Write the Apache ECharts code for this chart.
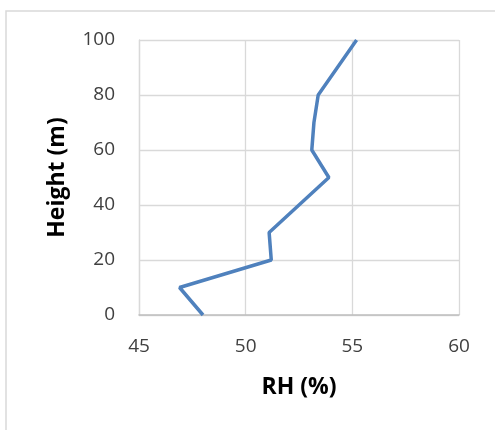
<!DOCTYPE html>
<html>
<head>
<meta charset="utf-8">
<script src="https://cdn.jsdelivr.net/npm/echarts@6/dist/echarts.min.js"></script>
<style>
  html, body { margin: 0; padding: 0; background: #fff; }
  #chart { width: 495px; height: 430px; }
</style>
</head>
<body>
<div id="chart"></div>
<script>
// Relative humidity profile against height
const heights = [0, 10, 20, 30, 40, 50, 60, 70, 80, 90, 100];
const rhValues = [48.0, 46.9, 51.2, 51.1, 52.5, 53.9, 53.1, 53.2, 53.4, 54.3, 55.2];
const xTicks = { min: 45, max: 60, interval: 5 };
const yTicks = { min: 0, max: 100, interval: 20 };

const profile = rhValues.map((rh, i) => [rh, heights[i]]);

const font = '"Open Sans", "DejaVu Sans", sans-serif';
const gridColor = '#d9d9d9';

const chart = echarts.init(document.getElementById('chart'), null, { renderer: 'canvas' });
chart.setOption({
  animation: false,
  backgroundColor: '#ffffff',
  graphic: [{
    type: 'rect',
    shape: { x: 6, y: 11, width: 600, height: 600 },
    style: { fill: 'none', stroke: gridColor, lineWidth: 1.5 },
    silent: true
  }],
  grid: { left: 139, right: 36, top: 40, bottom: 115 },
  xAxis: {
    type: 'value',
    min: xTicks.min, max: xTicks.max, interval: xTicks.interval,
    name: 'RH (%)',
    nameLocation: 'middle',
    nameGap: 61,
    nameTextStyle: { fontFamily: font, fontSize: 23, fontWeight: 'bold', color: '#000' },
    axisLine: { show: true, lineStyle: { color: '#bfbfbf', width: 1.5 } },
    axisTick: { show: false },
    axisLabel: { margin: 22, fontFamily: font, fontSize: 19, color: '#404040' },
    splitLine: { show: true, lineStyle: { color: gridColor, width: 1.3 } }
  },
  yAxis: {
    type: 'value',
    min: yTicks.min, max: yTicks.max, interval: yTicks.interval,
    name: 'Height (m)',
    nameLocation: 'middle',
    nameGap: 70,
    nameTextStyle: { fontFamily: font, fontSize: 23, fontWeight: 'bold', color: '#000' },
    axisLine: { show: true, lineStyle: { color: gridColor, width: 1.3 } },
    axisTick: { show: false },
    axisLabel: { margin: 24, fontFamily: font, fontSize: 19, color: '#404040' },
    splitLine: { show: true, lineStyle: { color: gridColor, width: 1.3 } }
  },
  series: [{
    type: 'line',
    data: profile,
    showSymbol: false,
    lineStyle: { color: '#4f81bd', width: 3.5 },
    itemStyle: { color: '#4f81bd' }
  }]
});
</script>
</body>
</html>
